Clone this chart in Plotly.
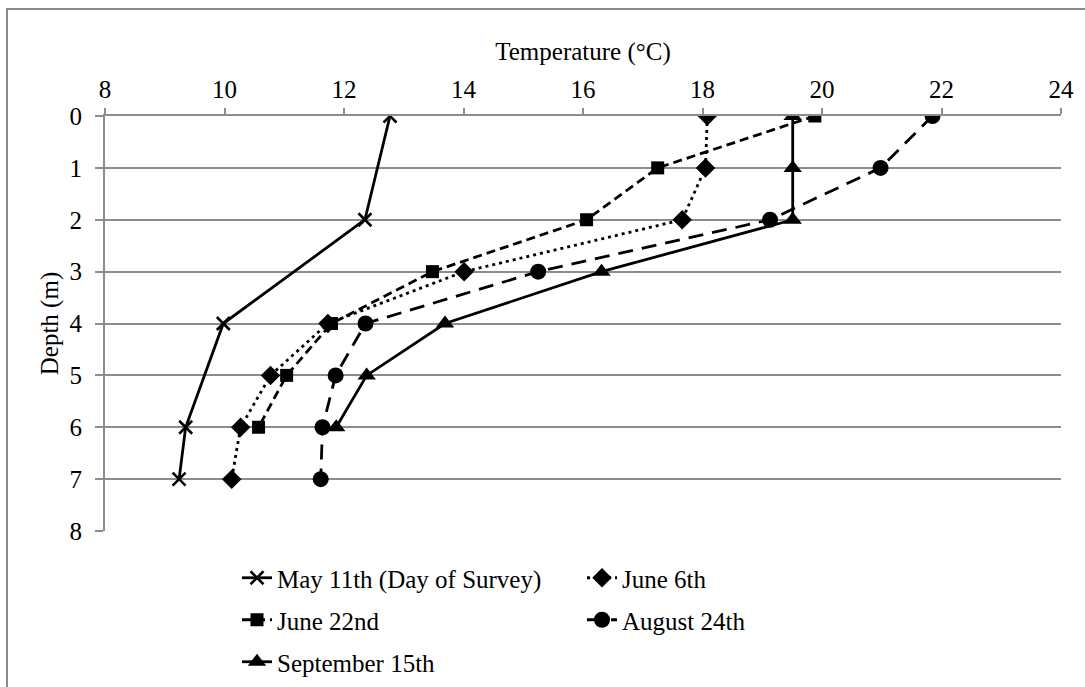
import plotly.graph_objects as go

# Water temperature profiles (°C) by depth (m) for each sampling date
may11_depth = [0, 2, 4, 6, 7]
may11_temp = [12.77, 12.35, 9.98, 9.35, 9.24]

jun06_depth = [0, 1, 2, 3, 4, 5, 6, 7]
jun06_temp = [18.08, 18.05, 17.66, 14.01, 11.73, 10.77, 10.27, 10.12]

jun22_depth = [0, 1, 2, 3, 4, 5, 6]
jun22_temp = [19.88, 17.25, 16.06, 13.48, 11.79, 11.04, 10.57]

aug24_depth = [0, 1, 2, 3, 4, 5, 6, 7]
aug24_temp = [21.85, 20.98, 19.13, 15.25, 12.36, 11.86, 11.64, 11.61]

sep15_depth = [0, 1, 2, 3, 4, 5, 6]
sep15_temp = [19.51, 19.51, 19.51, 16.31, 13.69, 12.38, 11.87]

series_names = ["May 11th (Day of Survey)", "June 6th", "June 22nd",
                "August 24th", "September 15th"]

FONT = "Liberation Serif, Times New Roman, serif"
GRID = "#8c8c8c"
W, H = 1085, 687
ML, MR, MT, MB = 105, 24, 116, 156
PW, PH = W - ML - MR, H - MT - MB


def px_x(px):
    return (px - ML) / PW


def px_y(py):
    return (H - MB - py) / PH


fig = go.Figure()

styles = [
    (may11_temp, may11_depth, "solid", dict(symbol="x-thin", size=13,
                                            line=dict(width=2.5, color="black"))),
    (jun06_temp, jun06_depth, "3px,4px", dict(symbol="diamond", size=15)),
    (jun22_temp, jun22_depth, "9px,5px", dict(symbol="square", size=13)),
    (aug24_temp, aug24_depth, "15px,9px", dict(symbol="circle", size=16)),
    (sep15_temp, sep15_depth, "solid", dict(symbol="triangle-up", size=16)),
]
legend_ids = ["legend", "legend2", "legend3", "legend4", "legend5"]

for (xs, ys, dash, marker), name, lid in zip(styles, series_names, legend_ids):
    marker = dict(marker)
    marker.setdefault("line", dict(width=0))
    fig.add_trace(go.Scatter(
        x=xs, y=ys, name=name, mode="lines+markers",
        line=dict(color="black", width=2.8, dash=dash),
        marker=dict(color="black", **marker),
        legend=lid,
    ))

# Legend laid out as a two-column grid, one legend box per entry
col_x = [px_x(237), px_x(582)]
row_y = [px_y(578), px_y(620), px_y(662)]
positions = [(0, 0), (1, 0), (0, 1), (1, 1), (0, 2)]
legend_cfg = {}
for lid, (c, r) in zip(legend_ids, positions):
    legend_cfg[lid] = dict(
        x=col_x[c], y=row_y[r], xanchor="left", yanchor="middle",
        bgcolor="rgba(0,0,0,0)", borderwidth=0,
        font=dict(family=FONT, size=25, color="black"),
        itemclick=False, itemdoubleclick=False,
    )

fig.update_layout(
    width=W, height=H, autosize=False,
    margin=dict(l=ML, r=MR, t=MT, b=MB, pad=0, autoexpand=False),
    paper_bgcolor="white", plot_bgcolor="white",
    font=dict(family=FONT, size=25, color="black"),
    showlegend=True,
    xaxis=dict(
        range=[8, 24], dtick=2, side="top", showgrid=False, zeroline=False,
        showline=True, linecolor=GRID, linewidth=2,
        ticks="outside", ticklen=6, tickwidth=2, tickcolor=GRID,
        tickfont=dict(family=FONT, size=25, color="black"),
        title=dict(text="Temperature (°C)", standoff=8,
                   font=dict(family=FONT, size=25, color="black")),
    ),
    yaxis=dict(
        range=[8, 0], dtick=1, showgrid=True, gridcolor=GRID, gridwidth=2,
        zeroline=False, showline=True, linecolor=GRID, linewidth=2,
        ticks="outside", ticklen=8, tickwidth=2, tickcolor=GRID,
        tickfont=dict(family=FONT, size=25, color="black"),
        ticklabelstandoff=8,
        title=dict(text="Depth (m)", standoff=4,
                   font=dict(family=FONT, size=25, color="black")),
    ),
    shapes=[dict(type="rect", xref="paper", yref="paper",
                 x0=px_x(7), x1=px_x(1100), y0=px_y(9), y1=px_y(710),
                 line=dict(color=GRID, width=2), fillcolor="rgba(0,0,0,0)",
                 layer="below")],
    **legend_cfg,
)

fig.write_html("out.html")
